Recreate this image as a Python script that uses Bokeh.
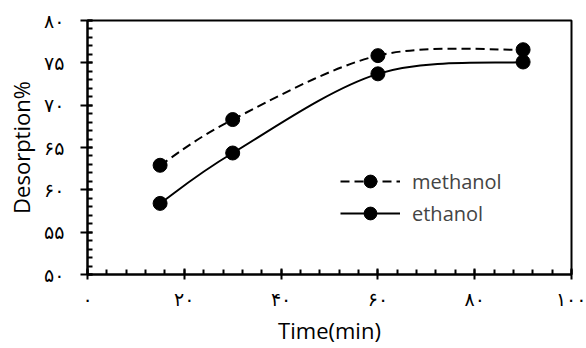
from bokeh.plotting import figure
from bokeh.models import FixedTicker, Legend, LegendItem, ColumnDataSource, Range1d
from bokeh.embed import file_html
from bokeh.resources import INLINE

# Desorption (%) versus contact time (min) for two eluents
time_min = [15, 30, 60, 90]
methanol = [62.9, 68.3, 75.85, 76.55]
ethanol = [58.4, 64.35, 73.7, 75.1]

x_ticks = [0, 20, 40, 60, 80, 100]
x_tick_labels = ["۰", "۲۰", "۴۰", "۶۰", "۸۰", "۱۰۰"]
y_ticks = [50, 55, 60, 65, 70, 75, 80]
y_tick_labels = ["۵۰", "۵۵", "۶۰", "۶۵", "۷۰", "۷۵", "۸۰"]
x_minor = list(range(0, 101, 4))
y_minor = list(range(50, 81, 1))

FONT = "Open Sans"
DIGIT_FONT = "DejaVu Sans"


def smooth_segments(xs, ys):
    """Cubic Bezier pieces (Catmull-Rom style) passing through every point."""
    n = len(xs)
    seg = dict(x0=[], y0=[], x1=[], y1=[], cx0=[], cy0=[], cx1=[], cy1=[])
    for i in range(n - 1):
        ip = max(i - 1, 0)
        inx = min(i + 2, n - 1)
        seg["x0"].append(xs[i]); seg["y0"].append(ys[i])
        seg["x1"].append(xs[i + 1]); seg["y1"].append(ys[i + 1])
        seg["cx0"].append(xs[i] + (xs[i + 1] - xs[ip]) / 6)
        seg["cy0"].append(ys[i] + (ys[i + 1] - ys[ip]) / 6)
        seg["cx1"].append(xs[i + 1] - (xs[inx] - xs[i]) / 6)
        seg["cy1"].append(ys[i + 1] - (ys[inx] - ys[i]) / 6)
    return ColumnDataSource(seg)


p = figure(width=586, height=348, output_backend="svg", toolbar_location=None,
           x_range=Range1d(0, 100), y_range=Range1d(50, 80),
           min_border_left=87, min_border_right=15, min_border_top=20, min_border_bottom=74)
p.background_fill_color = "white"
p.border_fill_color = "white"
p.grid.visible = False
p.outline_line_color = "black"
p.outline_line_width = 2

series = [("methanol", methanol, "9 5"), ("ethanol", ethanol, "solid")]
items = []
for name, vals, dash in series:
    src = smooth_segments(time_min, vals)
    curve = p.bezier(x0="x0", y0="y0", x1="x1", y1="y1", cx0="cx0", cy0="cy0",
                     cx1="cx1", cy1="cy1", source=src, line_color="black",
                     line_width=2, line_dash=dash)
    pts = p.scatter(time_min, vals, size=14, marker="circle",
                    fill_color="black", line_color="black")
    items.append(LegendItem(label=name, renderers=[curve, pts]))

legend = Legend(items=items, location=(253, 45), padding=0, margin=0, spacing=0,
                glyph_width=60, glyph_height=32, label_height=32, label_standoff=12,
                label_text_font=FONT, label_text_font_size="20px",
                border_line_color=None, background_fill_alpha=0)
p.add_layout(legend, "center")

# x axis
xa = p.xaxis[0]
xa.ticker = FixedTicker(ticks=x_ticks, minor_ticks=x_minor)
xa.major_label_overrides = {t: s for t, s in zip(x_ticks, x_tick_labels)}
xa.axis_label = "Time(min)"
xa.axis_label_text_font = FONT
xa.axis_label_text_font_size = "22px"
xa.axis_label_text_font_style = "normal"
xa.axis_label_standoff = 2
xa.major_label_text_font = DIGIT_FONT
xa.major_label_text_font_size = "19px"
xa.major_label_standoff = 8
xa.major_tick_in = 6
xa.major_tick_out = 5
xa.minor_tick_in = 5
xa.minor_tick_out = 0

# y axis
ya = p.yaxis[0]
ya.ticker = FixedTicker(ticks=y_ticks, minor_ticks=y_minor)
ya.major_label_overrides = {t: s for t, s in zip(y_ticks, y_tick_labels)}
ya.axis_label = "Desorption%"
ya.axis_label_text_font = FONT
ya.axis_label_text_font_size = "22px"
ya.axis_label_text_font_style = "normal"
ya.axis_label_standoff = 5
ya.major_label_text_font = DIGIT_FONT
ya.major_label_text_font_size = "19px"
ya.major_label_standoff = 16
ya.major_label_orientation = "horizontal"
ya.major_tick_in = 5
ya.major_tick_out = 7
ya.minor_tick_in = 5
ya.minor_tick_out = 0

for ax in (xa, ya):
    ax.axis_line_color = "black"
    ax.axis_line_width = 2
    ax.major_tick_line_color = "black"
    ax.major_tick_line_width = 2
    ax.minor_tick_line_color = "black"
    ax.minor_tick_line_width = 2
    ax.major_label_text_color = "black"
    ax.axis_label_text_color = "black"

open("out.html", "w").write(file_html(p, INLINE))
